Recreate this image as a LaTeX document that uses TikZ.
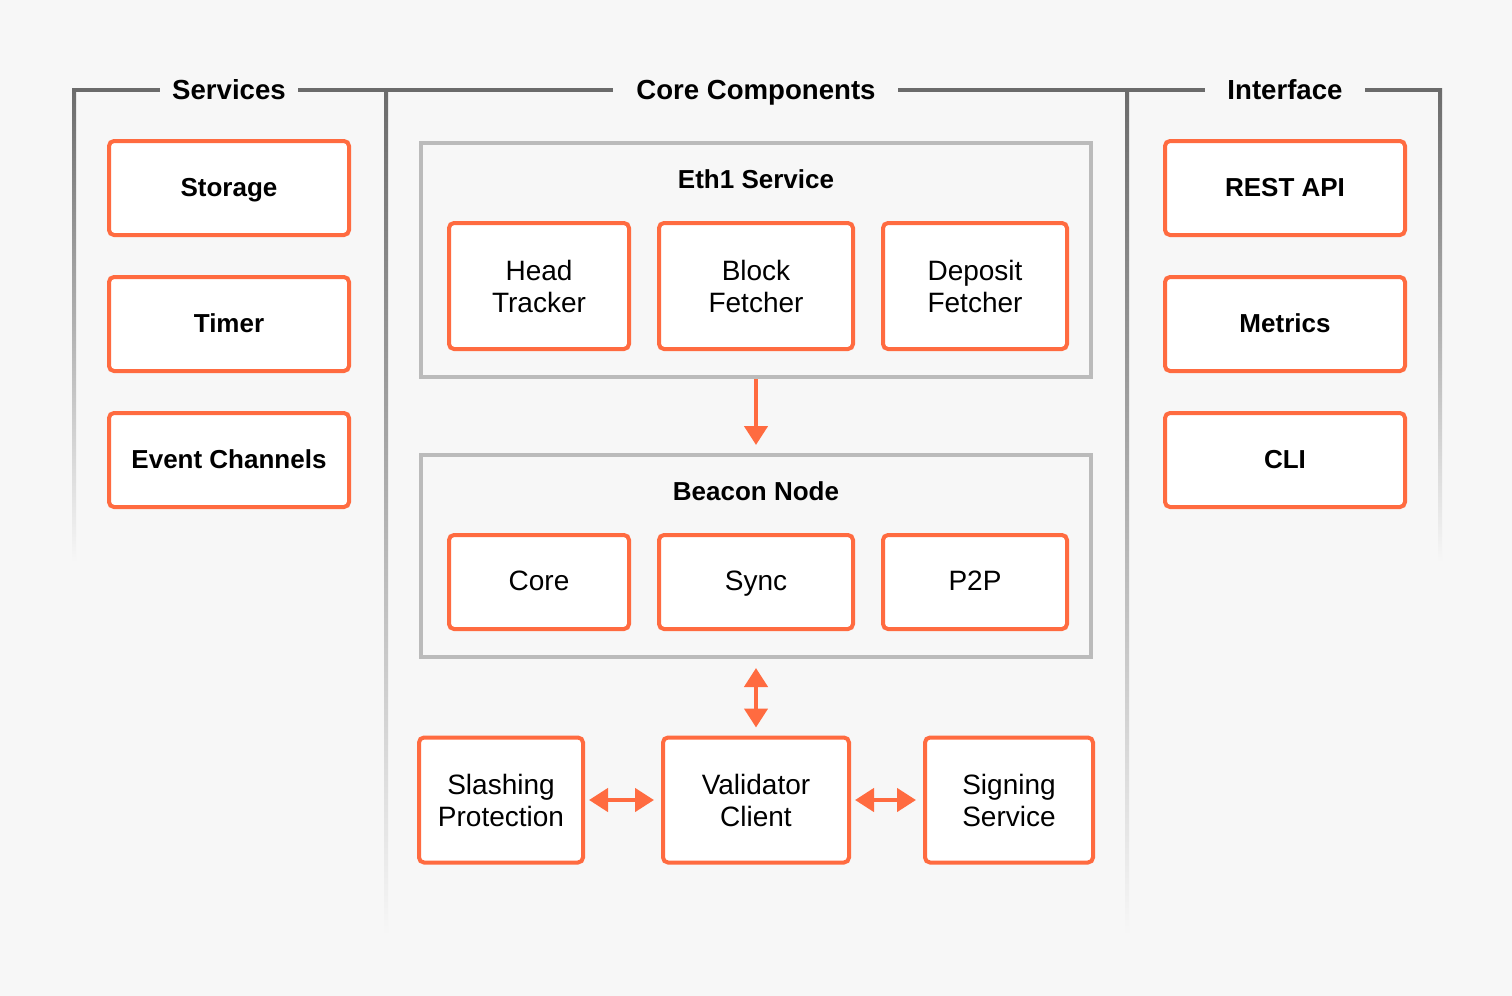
\documentclass[tikz,border=0pt]{standalone}
\usepackage{fontspec}
\setmainfont{Liberation Sans}
\usetikzlibrary{arrows.meta}
\definecolor{bg}{HTML}{F7F7F7}
\definecolor{lineg}{HTML}{6B6B6B}
\definecolor{boxg}{HTML}{BBBBBB}
\definecolor{orng}{HTML}{FF6B40}
\tikzset{
  obox/.style={draw=orng, line width=2pt, fill=white, rounded corners=2.5pt, align=center, inner sep=0pt},
  oneline/.style={text height=0.88em, text depth=0pt},
  reglabel/.style={font=\fontsize{14pt}{16pt}\selectfont},
  boldlabel/.style={font=\fontsize{13pt}{16pt}\selectfont\bfseries},
  gbox/.style={draw=boxg, line width=2pt, fill=bg, inner sep=0pt},
  sectitle/.style={font=\fontsize{13.8pt}{16pt}\selectfont\bfseries, anchor=base, inner sep=0pt},
  boxtitle/.style={font=\fontsize{13pt}{16pt}\selectfont\bfseries, anchor=base, inner sep=0pt},
  toplinestyle/.style={draw=lineg, line width=2pt},
  conn/.style={draw=orng, line width=2.2pt, -{Triangle[width=11.5pt,length=9.5pt]}},
  dconn/.style={draw=orng, line width=2.2pt, {Triangle[width=11.5pt,length=9.5pt]}-{Triangle[width=11.5pt,length=9.5pt]}}
}
\begin{document}
\begin{tikzpicture}[x=0.5pt,y=-0.5pt]
\useasboundingbox[fill=bg] (0,0) rectangle (1512,996);

% bracket frames
\shade[top color=lineg, bottom color=bg] (72,88) rectangle (76,562);
\shade[top color=lineg, bottom color=bg] (384,88) rectangle (388,935);
\shade[top color=lineg, bottom color=bg] (1125,88) rectangle (1129,935);
\shade[top color=lineg, bottom color=bg] (1438,88) rectangle (1442,562);
\draw[toplinestyle] (72,90) -- (160,90);
\draw[toplinestyle] (298,90) -- (613,90);
\draw[toplinestyle] (898,90) -- (1205,90);
\draw[toplinestyle] (1365,90) -- (1442,90);

\node[sectitle] (tserv) at (229,99) {Services};
\node[sectitle] (tcore) at (756,99) {Core Components};
\node[sectitle] (tint) at (1285,99) {Interface};

% services
\node[obox, oneline, boldlabel, minimum width=120pt, minimum height=47pt] (storage) at (229,188) {Storage};
\node[obox, oneline, boldlabel, minimum width=120pt, minimum height=47pt] (timer) at (229,324) {Timer};
\node[obox, oneline, boldlabel, minimum width=120pt, minimum height=47pt] (events) at (229,460) {Event Channels};

% interface
\node[obox, oneline, boldlabel, minimum width=120pt, minimum height=47pt] (rest) at (1285,188) {REST API};
\node[obox, oneline, boldlabel, minimum width=120pt, minimum height=47pt] (metrics) at (1285,324) {Metrics};
\node[obox, oneline, boldlabel, minimum width=120pt, minimum height=47pt] (cli) at (1285,460) {CLI};

% eth1 service
\node[gbox, minimum width=335pt, minimum height=117pt] (eth1) at (756,260) {};
\node[boxtitle] (eth1t) at (756,188) {Eth1 Service};
\node[obox, reglabel, minimum width=90pt, minimum height=63pt] (head) at (539,286) {Head\\Tracker};
\node[obox, reglabel, minimum width=97pt, minimum height=63pt] (block) at (756,286) {Block\\Fetcher};
\node[obox, reglabel, minimum width=92pt, minimum height=63pt] (deposit) at (975,286) {Deposit\\Fetcher};

% beacon node
\node[gbox, minimum width=335pt, minimum height=101pt] (beacon) at (756,556) {};
\node[boxtitle] (beacont) at (756,500) {Beacon Node};
\node[obox, oneline, reglabel, minimum width=90pt, minimum height=47pt] (core) at (539,582) {Core};
\node[obox, oneline, reglabel, minimum width=97pt, minimum height=47pt] (sync) at (756,582) {Sync};
\node[obox, oneline, reglabel, minimum width=92pt, minimum height=47pt] (p2p) at (975,582) {P2P};

% validator row
\node[obox, reglabel, minimum width=82pt, minimum height=62.5pt] (slash) at (501,800) {Slashing\\Protection};
\node[obox, reglabel, minimum width=93pt, minimum height=62.5pt] (valid) at (756,800) {Validator\\Client};
\node[obox, reglabel, minimum width=84pt, minimum height=62.5pt] (sign) at (1009,800) {Signing\\Service};

% connectors
\draw[conn, shorten >=4pt] (eth1.south) -- (beacon.north);
\draw[dconn, shorten <=4.5pt, shorten >=4pt] (beacon.south) -- (valid.north);
\draw[dconn, shorten <=2pt, shorten >=3.5pt] (slash.east) -- (valid.west);
\draw[dconn, shorten <=2pt, shorten >=3.5pt] (valid.east) -- (sign.west);
\end{tikzpicture}
\end{document}
